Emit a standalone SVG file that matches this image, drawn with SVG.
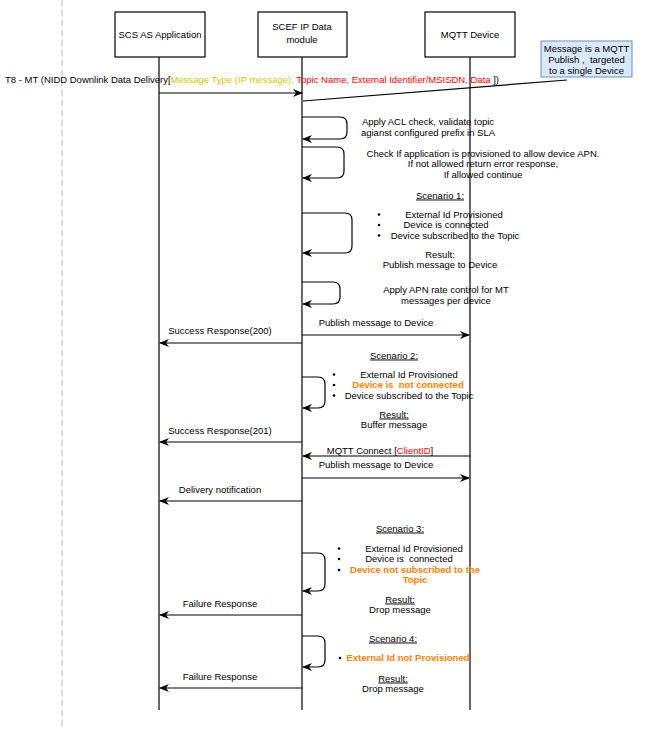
<svg xmlns="http://www.w3.org/2000/svg" width="646" height="729" viewBox="0 0 646 729">
<defs>
<style>
text{font-family:"Liberation Sans",Arial,sans-serif;font-size:9.5px;fill:#000;white-space:pre}
.m{text-anchor:middle}
.u{text-decoration:underline}
.o{fill:#FF8000;font-weight:bold}
.box{fill:#fff;stroke:#000;stroke-width:1.2}
.life{stroke:#000;stroke-width:1.2;fill:none}
.msg{stroke:#000;stroke-width:1.2;fill:none;marker-end:url(#ah)}
</style>
<marker id="ah" viewBox="0 0 10 8" refX="9" refY="4" markerWidth="10" markerHeight="8" markerUnits="userSpaceOnUse" orient="auto">
<path d="M0,0 L10,4 L0,8 L3,4 z" fill="#000"/>
</marker>
</defs>
<rect width="646" height="729" fill="#fff"/>
<line x1="62" y1="0" x2="62" y2="729" stroke="#bbb" stroke-width="1" stroke-dasharray="6 4"/>

<g id="lifelines">
<line class="life" x1="159" y1="57" x2="159" y2="710"/>
<line class="life" x1="302" y1="57" x2="302" y2="710"/>
<line class="life" x1="470" y1="57" x2="470" y2="710"/>
</g>

<g id="scs">
<rect class="box" x="115" y="12" width="90" height="45"/>
<text class="m" x="160" y="37.5">SCS AS Application</text>
</g>
<g id="scef">
<rect class="box" x="258" y="12" width="89" height="45"/>
<text class="m" x="302" y="30">SCEF IP Data</text>
<text class="m" x="302" y="43">module</text>
</g>
<g id="mqtt">
<rect class="box" x="425" y="12" width="90" height="45"/>
<text class="m" x="470" y="37.5">MQTT Device</text>
</g>
<g id="note">
<rect x="541" y="41" width="91" height="36" fill="#dae8fc" stroke="#6c8ebf" stroke-width="1"/>
<text class="m" x="586.5" y="51.5">Message is a MQTT</text>
<text class="m" x="586.5" y="62.5">Publish ,  targeted</text>
<text class="m" x="586.5" y="73.5">to a single Device</text>
</g>

<g id="connectors">
<line x1="567" y1="80" x2="303" y2="101" stroke="#000" stroke-width="1.2"/>
<line class="msg" x1="159" y1="93" x2="302" y2="93"/>
<path class="msg" d="M302,117 H340 Q347,117 347,124 V132 Q347,139 340,139 H303"/>
<path class="msg" d="M302,147 H337 Q344,147 344,154 V171 Q344,178 337,178 H303"/>
<path class="msg" d="M302,213 H345 Q352,213 352,220 V246 Q352,253 345,253 H303"/>
<path class="msg" d="M302,282 H333 Q340,282 340,289 V297 Q340,304 333,304 H303"/>
<line class="msg" x1="302" y1="335" x2="469" y2="335"/>
<line class="msg" x1="302" y1="343" x2="160" y2="343"/>
<path class="msg" d="M302,377 H318 Q325,377 325,384 V401 Q325,408 318,408 H303"/>
<line class="msg" x1="302" y1="442" x2="160" y2="442"/>
<line class="msg" x1="470" y1="456" x2="303" y2="456"/>
<line class="msg" x1="302" y1="478" x2="469" y2="478"/>
<line class="msg" x1="302" y1="501" x2="160" y2="501"/>
<path class="msg" d="M302,553 H318 Q325,553 325,560 V584 Q325,591 318,591 H303"/>
<line class="msg" x1="302" y1="615" x2="160" y2="615"/>
<path class="msg" d="M302,636 H318 Q325,636 325,643 V660 Q325,667 318,667 H303"/>
<line class="msg" x1="302" y1="688" x2="160" y2="688"/>
</g>

<g id="labels">
<text x="5" y="82.5">T8 - MT (NIDD Downlink Data Delivery[<tspan fill="#CCCC00">Message Type (IP message),</tspan><tspan fill="#FF0000"> Topic Name, External Identifier/MSISDN, Data </tspan>])</text>

<text class="m" x="428" y="124.5">Apply ACL check, validate topic</text>
<text class="m" x="428" y="135.5">agianst configured prefix in SLA</text>

<text class="m" x="483" y="156.5">Check If application is provisioned to allow device APN.</text>
<text class="m" x="483" y="167">If not allowed return error response,</text>
<text class="m" x="483" y="177.5">If allowed continue</text>

<text class="m u" x="440" y="198.5">Scenario 1:</text>
<circle cx="379" cy="214.5" r="1.3"/>
<circle cx="379" cy="225" r="1.3"/>
<circle cx="379" cy="235.5" r="1.3"/>
<text class="m" x="454" y="217.5">External Id Provisioned</text>
<text class="m" x="446" y="228">Device is connected</text>
<text class="m" x="455" y="238.5">Device subscribed to the Topic</text>
<text class="m" x="440" y="257.5">Result:</text>
<text class="m" x="440" y="268">Publish message to Device</text>

<text class="m" x="446" y="292.5">Apply APN rate control for MT</text>
<text class="m" x="446" y="303.5">messages per device</text>

<text class="m" x="376" y="325.5">Publish message to Device</text>
<text class="m" x="220" y="333.5">Success Response(200)</text>

<text class="m u" x="394" y="358.5">Scenario 2:</text>
<circle cx="334" cy="374.5" r="1.3"/>
<circle cx="334" cy="385" r="1.3"/>
<circle cx="334" cy="395.5" r="1.3"/>
<text class="m" x="409" y="377.5">External Id Provisioned</text>
<text class="m o" x="408" y="388">Device is  not connected</text>
<text class="m" x="409" y="398.5">Device subscribed to the Topic</text>
<text class="m u" x="394" y="417.5">Result:</text>
<text class="m" x="394" y="428">Buffer message</text>

<text class="m" x="220" y="433.5">Success Response(201)</text>
<text class="m" x="380" y="453.5">MQTT Connect [<tspan fill="#FF0000">ClientID</tspan>]</text>
<text class="m" x="376" y="467.5">Publish message to Device</text>
<text class="m" x="220" y="492.5">Delivery notification</text>

<text class="m u" x="400" y="531.5">Scenario 3:</text>
<circle cx="339" cy="548.5" r="1.3"/>
<circle cx="339" cy="559" r="1.3"/>
<circle cx="339" cy="570" r="1.3"/>
<text class="m" x="414" y="551.5">External Id Provisioned</text>
<text class="m" x="409" y="562">Device is  connected</text>
<text class="m o" x="415" y="572.5">Device not subscribed to the</text>
<text class="m o" x="415" y="583">Topic</text>
<text class="m u" x="400" y="602.5">Result:</text>
<text class="m" x="400" y="613">Drop message</text>
<text class="m" x="220" y="606.5">Failure Response</text>

<text class="m u" x="393" y="641.5">Scenario 4:</text>
<circle cx="340" cy="658" r="1.3"/>
<text class="m o" x="408" y="661">External Id not Provisioned</text>
<text class="m u" x="393" y="681.5">Result:</text>
<text class="m" x="393" y="691.5">Drop message</text>
<text class="m" x="220" y="679.5">Failure Response</text>
</g>
</svg>
